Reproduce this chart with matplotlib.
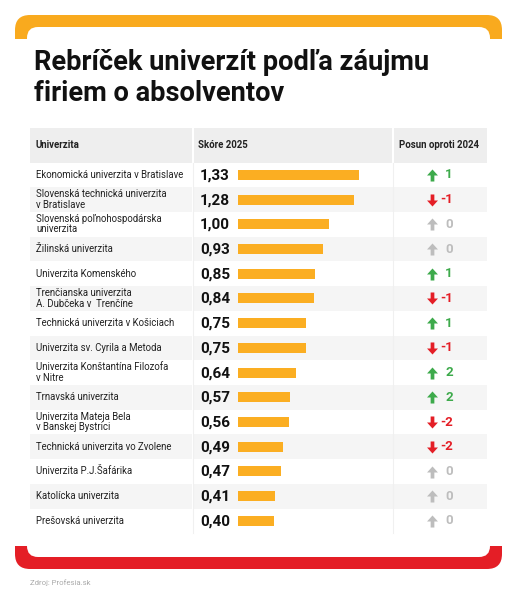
import matplotlib.pyplot as plt
import numpy as np
from matplotlib.patches import FancyBboxPatch, Rectangle
from matplotlib.path import Path

plt.rcParams['font.family'] = ['Roboto', 'DejaVu Sans']

# data
title = "Rebríček univerzít podľa záujmu\nfiriem o absolventov"
headers = ["Univerzita", "Skóre 2025", "Posun oproti 2024"]
universities = [
    "Ekonomická univerzita v Bratislave",
    "Slovenská technická univerzita\nv Bratislave",
    "Slovenská poľnohospodárska\nuniverzita",
    "Žilinská univerzita",
    "Univerzita Komenského",
    "Trenčianska univerzita\nA. Dubčeka v  Trenčíne",
    "Technická univerzita v Košiciach",
    "Univerzita sv. Cyrila a Metoda",
    "Univerzita Konštantína Filozofa\nv Nitre",
    "Trnavská univerzita",
    "Univerzita Mateja Bela\nv Banskej Bystrici",
    "Technická univerzita vo Zvolene",
    "Univerzita P.J.Šafárika",
    "Katolícka univerzita",
    "Prešovská univerzita",
]
scores = [1.33, 1.28, 1.00, 0.93, 0.85, 0.84, 0.75, 0.75, 0.64, 0.57, 0.56, 0.49, 0.47, 0.41, 0.40]
shifts = [1, -1, 0, 0, 1, -1, 1, -1, 2, 2, -2, -2, 0, 0, 0]
source = "Zdroj: Profesia.sk"

ORANGE = '#F9AA1E'
BAR = '#FBAE22'
RED = '#E41E26'
GREEN = '#3DAA4B'
GREY = '#BDBDBD'

W, H = 530, 600
fig = plt.figure(figsize=(W / 100, H / 100), dpi=100)
ax = fig.add_axes([0, 0, 1, 1])
ax.set_xlim(0, W)
ax.set_ylim(H, 0)
ax.axis('off')

# frame: orange top, red bottom
ax.add_patch(FancyBboxPatch((15, 15), 487, 200, boxstyle="round,pad=0,rounding_size=15", fc=ORANGE, ec='none'))
ax.add_patch(FancyBboxPatch((27, 27), 463, 200, boxstyle="round,pad=0,rounding_size=11", fc='white', ec='none'))
ax.add_patch(FancyBboxPatch((15, 369), 487, 200, boxstyle="round,pad=0,rounding_size=15", fc=RED, ec='none'))
ax.add_patch(FancyBboxPatch((27, 357), 463, 200, boxstyle="round,pad=0,rounding_size=11", fc='white', ec='none'))
ax.add_patch(Rectangle((0, 39), W, 507, fc='white', ec='none'))

ax.text(34, 78, title, fontsize=19.6, fontweight='bold', color='#111111',
        va='center', ha='left', linespacing=1.15)

# table geometry
tx0, tx1 = 30, 487
c1, c2 = 193, 393
hy0, hy1 = 128, 162.5
n = len(universities)
dy = 24.72
ry0 = hy1

ax.add_patch(Rectangle((tx0, hy0), tx1 - tx0, hy1 - hy0, fc='#EEEEEE', ec='none'))
hyc = (hy0 + hy1) / 2
ax.text(35, hyc, headers[0], fontsize=6.9, fontweight='bold', color='#222222', va='center')
ax.text(198, hyc, headers[1], fontsize=6.9, fontweight='bold', color='#222222', va='center')
ax.text(399, hyc, headers[2], fontsize=6.9, fontweight='bold', color='#222222', va='center')

for i in range(n):
    top = ry0 + i * dy
    if i % 2 == 1:
        ax.add_patch(Rectangle((tx0, top), tx1 - tx0, dy, fc='#F5F5F5', ec='none'))

ax.plot([c1, c1], [hy0, ry0 + n * dy], color='white', lw=1.5)
ax.plot([c2, c2], [hy0, hy1], color='white', lw=1.5)
ax.plot([c1, c1], [hy1, ry0 + n * dy], color='#F0F0F0', lw=0.8)
ax.plot([c2, c2], [hy1, ry0 + n * dy], color='#F0F0F0', lw=0.8)

# marker paths are in y-up coordinates
up_arrow = Path([(-0.5, 0.0), (0.0, 0.55), (0.5, 0.0), (0.17, 0.0), (0.17, -0.55),
                 (-0.17, -0.55), (-0.17, 0.0), (-0.5, 0.0)],
                [Path.MOVETO] + [Path.LINETO] * 6 + [Path.CLOSEPOLY])
down_arrow = Path([(x, -y) for x, y in up_arrow.vertices], up_arrow.codes)

for i, (name, s, sh) in enumerate(zip(universities, scores, shifts)):
    yc = ry0 + (i + 0.5) * dy
    ax.text(36, yc, name, fontsize=6.95, color='#222222', va='center', ha='left', linespacing=1.05)
    ax.text(200, yc + 0.5, f"{s:.2f}".replace('.', ','), fontsize=11, fontweight='bold',
            color='#111111', va='center', ha='left')
    if sh > 0:
        col, mk = GREEN, up_arrow
    elif sh < 0:
        col, mk = RED, down_arrow
    else:
        col, mk = GREY, up_arrow
    ax.scatter([431.5], [yc], marker=mk, s=75, color=col, linewidths=0, zorder=3)
    ax.text(453, yc, f"{sh}", fontsize=9.5, fontweight='bold', color=col, va='center', ha='right')

# bars in their own axes, in score units
px_per_unit = 91.0
bx0, bx1 = 238, 392
bax = fig.add_axes([bx0 / W, 1 - (ry0 + n * dy) / H, (bx1 - bx0) / W, n * dy / H])
bax.set_xlim(0, (bx1 - bx0) / px_per_unit)
bax.set_ylim(n - 0.5, -0.5)
bax.barh(np.arange(n), scores, height=10 / dy, color=BAR, edgecolor='none')
bax.axis('off')
bax.patch.set_alpha(0)

ax.text(30, 583, source, fontsize=5.6, color='#AAAAAA', va='center', ha='left')

fig.savefig('out.png', dpi=100)
